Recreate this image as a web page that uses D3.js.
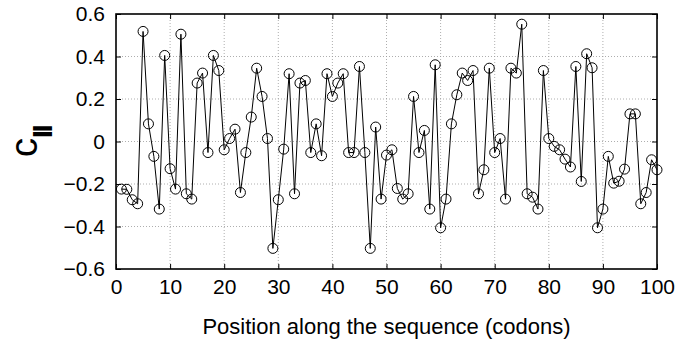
<!DOCTYPE html>
<html><head><meta charset="utf-8">
<script src="https://cdn.jsdelivr.net/npm/d3@7"></script>
<style>body{margin:0;background:#fff}svg{display:block}text{font-family:"Liberation Sans",Arial,Helvetica,sans-serif;fill:#000}</style>
</head><body>
<svg id="c" width="675" height="340"></svg>
<script>
const positions = d3.range(1, 101);
const corrValues = [
 -0.224,-0.225,-0.274,-0.293,0.518,0.083,-0.070,-0.318,0.405,-0.128,
 -0.224,0.505,-0.246,-0.271,0.275,0.322,-0.052,0.405,0.334,-0.039,
 0.014,0.058,-0.240,-0.052,0.115,0.345,0.212,0.014,-0.503,-0.274,
 -0.036,0.319,-0.246,0.275,0.287,-0.052,0.083,-0.067,0.319,0.212,
 0.275,0.319,-0.052,-0.052,0.353,-0.052,-0.503,0.068,-0.271,-0.064,
 -0.039,-0.221,-0.271,-0.246,0.212,-0.052,0.052,-0.318,0.361,-0.406,
 -0.271,0.083,0.220,0.322,0.287,0.334,-0.246,-0.133,0.345,-0.052,
 0.014,-0.271,0.345,0.322,0.552,-0.246,-0.262,-0.318,0.334,0.014,
 -0.023,-0.039,-0.083,-0.120,0.353,-0.188,0.413,0.347,-0.406,-0.318,
 -0.070,-0.196,-0.187,-0.130,0.130,0.130,-0.293,-0.240,-0.086,-0.133
];
const xTicks = [0,10,20,30,40,50,60,70,80,90,100];
const yTicks = [-0.6,-0.4,-0.2,0,0.2,0.4,0.6];
const xLabel = "Position along the sequence (codons)";
const yLabelMain = "c", yLabelSub = "II";

const L = 116, R = 657, T = 14, B = 269;
const svg = d3.select("#c");
const x = d3.scaleLinear().domain([0,100]).range([L,R]);
const y = d3.scaleLinear().domain([-0.6,0.6]).range([B,T]);
const fmt = v => v === 0 ? "0" : (v < 0 ? "\u2212" : "") + Math.abs(v).toFixed(1);

// grid
const g = svg.append("g");
g.selectAll(".gx").data(xTicks.slice(1,-1)).enter().append("line")
 .attr("x1", d=>x(d)).attr("x2", d=>x(d)).attr("y1", T).attr("y2", B)
 .attr("stroke", "#999").attr("stroke-width", 0.8).attr("stroke-dasharray", "1,2");
g.selectAll(".gy").data(yTicks.slice(1,-1)).enter().append("line")
 .attr("y1", d=>y(d)).attr("y2", d=>y(d)).attr("x1", L).attr("x2", R)
 .attr("stroke", "#999").attr("stroke-width", 0.8).attr("stroke-dasharray", "1,2");

// axes with inward ticks on all sides
const ax = (gen, tr) => {
  const a = svg.append("g").attr("transform", tr).call(gen);
  a.select(".domain").remove();
  a.selectAll("line").attr("stroke", "#000").attr("stroke-width", 1);
  return a;
};
const bx = ax(d3.axisBottom(x).tickValues(xTicks).tickSize(-5).tickPadding(10).tickFormat(d3.format("d")), `translate(0,${B})`);
bx.selectAll("text").attr("font-size", 21).attr("font-family", null);
ax(d3.axisTop(x).tickValues(xTicks).tickSize(-5).tickFormat(""), `translate(0,${T})`);
const ly = ax(d3.axisLeft(y).tickValues(yTicks).tickSize(-5).tickPadding(11).tickFormat(fmt), `translate(${L},0)`);
ly.selectAll("text").attr("font-size", 21).attr("font-family", null);
ax(d3.axisRight(y).tickValues(yTicks).tickSize(-5).tickFormat(""), `translate(${R},0)`);

svg.append("rect").attr("x", L).attr("y", T).attr("width", R-L).attr("height", B-T)
 .attr("fill", "none").attr("stroke", "#000").attr("stroke-width", 1.6);

// data
const pts = positions.map((p,i)=>[p, corrValues[i]]);
svg.append("path").datum(pts)
 .attr("d", d3.line().x(d=>x(d[0])).y(d=>y(d[1])))
 .attr("fill", "none").attr("stroke", "#000").attr("stroke-width", 1);
svg.selectAll(".pt").data(pts).enter().append("circle")
 .attr("cx", d=>x(d[0])).attr("cy", d=>y(d[1])).attr("r", 5)
 .attr("fill", "none").attr("stroke", "#000").attr("stroke-width", 1);

// labels
svg.append("text").attr("x", (L+R)/2).attr("y", 334).attr("text-anchor", "middle")
 .attr("font-size", 22).text(xLabel);
const yl = svg.append("g").attr("transform", "translate(37,157) rotate(-90)");
yl.append("text").attr("x", 0).attr("y", 0).attr("font-size", 38).text(yLabelMain);
yl.append("text").attr("x", 19).attr("y", 15).attr("font-size", 28).attr("font-weight", "bold")
 .attr("letter-spacing", -2).text(yLabelSub);
</script>
</body></html>
